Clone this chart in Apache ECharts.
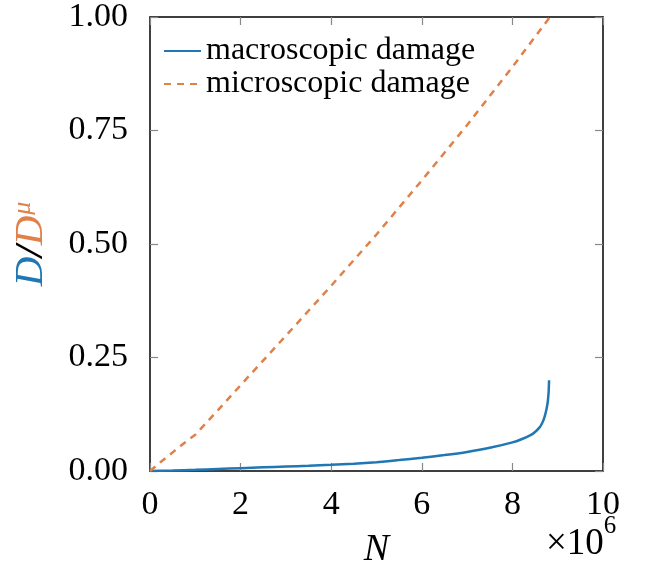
<!DOCTYPE html>
<html>
<head>
<meta charset="utf-8">
<script src="https://cdn.jsdelivr.net/npm/echarts@6/dist/echarts.min.js"></script>
<style>
  html, body { margin: 0; padding: 0; background: #fff; }
  #chart { width: 654px; height: 571px; }
</style>
</head>
<body>
<div id="chart"></div>
<script>
// cycles N, in units of 10^6
const macroN = [0, 0.5, 1, 1.5, 2, 2.5, 3, 3.5, 4, 4.5, 5, 5.5, 6, 6.5, 7, 7.5, 8, 8.2, 8.4, 8.5, 8.6, 8.65, 8.7, 8.75, 8.78, 8.8, 8.81]
const macroD = [0, 0.001, 0.0025, 0.0045, 0.0063, 0.008, 0.0097, 0.0115, 0.0135, 0.016, 0.0195, 0.024, 0.029, 0.035, 0.042, 0.051, 0.063, 0.07, 0.079, 0.086, 0.096, 0.104, 0.116, 0.135, 0.152, 0.175, 0.2]
const microN = [0, 0.25, 0.5, 0.75, 1, 1.5, 2, 3, 4, 5, 6, 7, 8, 8.83]
const microD = [0, 0.021, 0.041, 0.061, 0.08, 0.134, 0.189, 0.298, 0.408, 0.521, 0.64, 0.762, 0.89, 1.0]
const xTicks = [0, 2, 4, 6, 8, 10]
const yTicks = [0, 0.25, 0.5, 0.75, 1]

const colors = ['#1f77b4', '#df8149']
const font = '"Liberation Serif", "DejaVu Serif", serif'

const chart = echarts.init(document.getElementById('chart'))

const pairs = (xs, ys) => xs.map((x, i) => [x, ys[i]])

const frameAxis = {
    axisLine: { show: true, onZero: false, lineStyle: { color: '#000', width: 1.5 } },
    axisTick: { show: true, inside: true, length: 8, lineStyle: { color: '#888', width: 1.2 } },
    splitLine: { show: false }
}

const option = {
    animation: false,
    textStyle: { fontFamily: font },
    grid: { left: 150, right: 51, top: 17, bottom: 100, containLabel: false, outerBoundsMode: 'none' },
    legend: {
        left: 163,
        top: 35,
        orient: 'vertical',
        itemWidth: 37,
        itemHeight: 14,
        itemGap: 1,
        padding: 0,
        itemStyle: { opacity: 0 },
        textStyle: { fontFamily: font, fontSize: 32, color: '#000' },
        data: ['macroscopic damage', 'microscopic damage']
    },
    xAxis: [
        {
            type: 'value',
            min: xTicks[0],
            max: xTicks[xTicks.length - 1],
            interval: 2,
            ...frameAxis,
            axisLabel: { margin: 17, fontSize: 34, color: '#000', fontFamily: font },
            name: 'N',
            nameLocation: 'middle',
            nameGap: 60,
            nameTextStyle: { fontSize: 38, fontStyle: 'italic', color: '#000', fontFamily: font }
        },
        {
            type: 'value',
            position: 'top',
            min: 0, max: 10, interval: 2,
            ...frameAxis,
            axisLabel: { show: false }
        }
    ],
    yAxis: [
        {
            type: 'value',
            min: yTicks[0],
            max: yTicks[yTicks.length - 1],
            interval: 0.25,
            ...frameAxis,
            axisLabel: {
                margin: 22, fontSize: 34, color: '#000', fontFamily: font,
                formatter: v => v.toFixed(2)
            },
            name: '{b|D}{k|/}{o|D}{s|μ}',
            nameLocation: 'middle',
            nameRotate: 90,
            nameGap: 98,
            nameTextStyle: {
                fontFamily: font,
                rich: {
                    b: { fontSize: 41, fontStyle: 'italic', color: colors[0], fontFamily: font },
                    k: { fontSize: 41, fontStyle: 'italic', fontWeight: 'bold', color: '#000', fontFamily: font },
                    o: { fontSize: 41, fontStyle: 'italic', color: colors[1], fontFamily: font },
                    s: { fontSize: 26, fontStyle: 'italic', color: colors[1], fontFamily: font, verticalAlign: 'top', padding: [0, 0, 16, 1] }
                }
            }
        },
        {
            type: 'value',
            position: 'right',
            min: 0, max: 1, interval: 0.25,
            ...frameAxis,
            axisLabel: { show: false }
        }
    ],
    graphic: [
        {
            type: 'text',
            left: 546,
            top: 514,
            style: {
                text: '{a|×10}{b|6}',
                rich: {
                    a: { fontSize: 37, fontFamily: font, fill: '#000', padding: [12, 0, 0, 0] },
                    b: { fontSize: 25, fontFamily: font, fill: '#000', verticalAlign: 'top' }
                }
            }
        }
    ],
    series: [
        {
            name: 'macroscopic damage',
            type: 'line',
            showSymbol: false,
            symbol: 'none',
            smooth: 0.2,
            lineStyle: { color: colors[0], width: 2.5 },
            itemStyle: { color: colors[0] },
            data: pairs(macroN, macroD)
        },
        {
            name: 'microscopic damage',
            type: 'line',
            showSymbol: false,
            symbol: 'none',
            lineStyle: { color: colors[1], width: 2.5, type: [7, 6] },
            itemStyle: { color: colors[1] },
            data: pairs(microN, microD)
        }
    ]
}

chart.setOption(option)
</script>
</body>
</html>
